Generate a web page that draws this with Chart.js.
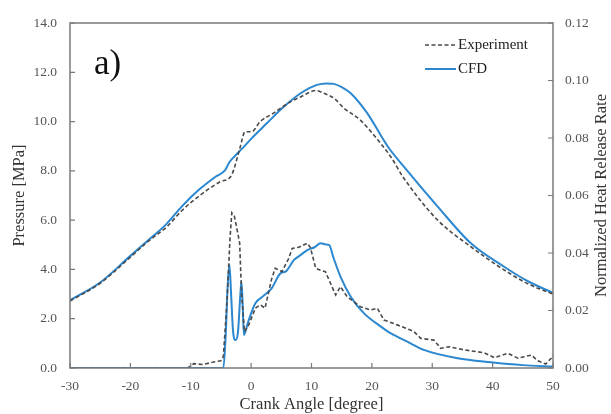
<!DOCTYPE html>
<html>
<head>
<meta charset="utf-8">
<script src="https://cdn.jsdelivr.net/npm/chart.js@4.4.0/dist/chart.umd.min.js"></script>
<style>
  html, body { margin: 0; padding: 0; background: #fff; }
</style>
</head>
<body>
<canvas id="chart" width="611" height="414"></canvas>
<script>
// Pressure [MPa], CFD
const cfdPressureAngle = [-30, -25, -20, -17, -14, -11.5, -8.7, -5.9, -4.3, -3.6, -2.9, -1.5, 0, 2.6, 5.4, 8.2, 10.9, 12.5, 13.7, 15, 16.5, 19.2, 22.6, 25.3, 30.9, 36.4, 41.9, 46, 50];
const cfdPressure = [2.75, 3.47, 4.55, 5.19, 5.85, 6.55, 7.22, 7.76, 8.03, 8.35, 8.55, 8.9, 9.3, 9.93, 10.6, 11.15, 11.49, 11.55, 11.53, 11.4, 11.15, 10.35, 9.0, 8.17, 6.55, 5.06, 4.11, 3.5, 3.05];

// Pressure [MPa], experiment
const expPressureAngle = [-30, -25, -20, -17, -14, -11.5, -8.4, -5.1, -3.4, -2.9, -1.8, -1.0, 0.1, 1.5, 3.7, 6.5, 8.2, 10.7, 12.0, 13.7, 15.4, 18.1, 20.3, 23.1, 25.3, 30.9, 36.4, 41.9, 46, 50];
const expPressure = [2.72, 3.44, 4.5, 5.15, 5.72, 6.38, 7.02, 7.56, 7.76, 8.03, 8.98, 9.59, 9.59, 10.0, 10.34, 10.8, 11.0, 11.26, 11.15, 10.95, 10.54, 10.06, 9.46, 8.58, 7.7, 6.0, 4.92, 3.98, 3.4, 3.0];

// Normalized heat release rate, CFD
const cfdHrrAngle = [-30, -4.6, -4.2, -3.9, -3.6, -3.3, -3.0, -2.6, -2.2, -1.8, -1.6, -1.4, -1.2, -0.5, 0.7, 2.0, 3.4, 4.9, 5.7, 7.1, 8.0, 9.3, 10.5, 11.5, 12.3, 12.9, 13.7, 14.8, 16.5, 18.7, 21.5, 23.1, 26.4, 28.6, 34.2, 39.7, 45, 50];
const cfdHrr = [0, 0, 0.012, 0.028, 0.036, 0.025, 0.013, 0.0097, 0.012, 0.025, 0.030, 0.022, 0.0115, 0.016, 0.0225, 0.025, 0.0277, 0.033, 0.0335, 0.0376, 0.039, 0.041, 0.042, 0.0434, 0.043, 0.0428, 0.038, 0.0318, 0.0248, 0.019, 0.0144, 0.0121, 0.0086, 0.0063, 0.0034, 0.002, 0.001, 0.0005];

// Normalized heat release rate, experiment
const expHrrAngle = [-30, -10.5, -9.5, -8, -6, -5, -4.6, -4.0, -3.5, -3.2, -2.8, -2.5, -1.9, -1.6, -1.1, -0.4, 0.7, 1.5, 2.3, 3.4, 4.0, 5.1, 6.2, 6.8, 7.9, 9.3, 9.8, 10.7, 11.5, 12.3, 14.0, 14.8, 15.9, 18.1, 19.8, 20.9, 22.0, 24.2, 26.4, 27.0, 28.1, 30.3, 31.4, 32.8, 35.3, 38.6, 40.3, 42.5, 44.2, 46.4, 47.5, 48.8, 49.7, 50];
const expHrr = [0, 0, 0.0015, 0.0012, 0.0022, 0.0025, 0.004, 0.023, 0.045, 0.054, 0.053, 0.050, 0.0435, 0.0265, 0.0126, 0.015, 0.0208, 0.022, 0.0208, 0.031, 0.0347, 0.0335, 0.038, 0.0416, 0.042, 0.0434, 0.042, 0.0347, 0.034, 0.0335, 0.0254, 0.0283, 0.0248, 0.0213, 0.0202, 0.0208, 0.0167, 0.015, 0.0132, 0.0126, 0.0103, 0.0097, 0.0068, 0.0074, 0.0063, 0.0053, 0.0036, 0.0051, 0.0034, 0.0045, 0.0025, 0.0014, 0.0034, 0.0045];

// axis ranges / tick steps
const angleRange = [-30, 50, 10];
const pressureRange = [0, 14, 2];
const hrrRange = [0, 0.12, 0.02];

const blue = '#2b87cf';
const grey = '#4a4a4a';
const frameColor = '#7a7a7a';
const serif = '"Liberation Serif", "Times New Roman", serif';

const toPoints = (xs, ys) => xs.map((x, i) => ({ x: x, y: ys[i] }));

// frame, inward ticks, legend, panel label and right axis title
const decorations = {
    id: 'decorations',
    afterDraw(chart) {
        const ctx = chart.ctx;
        const a = chart.chartArea;
        ctx.save();
        ctx.strokeStyle = frameColor;
        ctx.lineWidth = 1.5;
        ctx.strokeRect(a.left, a.top, a.right - a.left, a.bottom - a.top);

        ctx.lineWidth = 1.2;
        ctx.beginPath();
        chart.scales.x.ticks.forEach(t => {
            const px = chart.scales.x.getPixelForValue(t.value);
            ctx.moveTo(px, a.bottom);
            ctx.lineTo(px, a.bottom - 5);
        });
        chart.scales.y.ticks.forEach(t => {
            const py = chart.scales.y.getPixelForValue(t.value);
            ctx.moveTo(a.left, py);
            ctx.lineTo(a.left + 5, py);
        });
        chart.scales.y1.ticks.forEach(t => {
            const py = chart.scales.y1.getPixelForValue(t.value);
            ctx.moveTo(a.right, py);
            ctx.lineTo(a.right - 5, py);
        });
        ctx.stroke();

        // legend
        ctx.font = '15px ' + serif;
        ctx.fillStyle = '#222';
        ctx.textBaseline = 'middle';
        ctx.textAlign = 'left';
        ctx.strokeStyle = grey;
        ctx.lineWidth = 1.6;
        ctx.setLineDash([4, 2.5]);
        ctx.beginPath();
        ctx.moveTo(425, 45);
        ctx.lineTo(456, 45);
        ctx.stroke();
        ctx.setLineDash([]);
        ctx.fillText('Experiment', 458, 45);
        ctx.strokeStyle = blue;
        ctx.lineWidth = 2;
        ctx.beginPath();
        ctx.moveTo(425, 69);
        ctx.lineTo(456, 69);
        ctx.stroke();
        ctx.fillText('CFD', 458, 69);

        // panel label
        ctx.font = '35px ' + serif;
        ctx.fillStyle = '#111';
        ctx.textBaseline = 'alphabetic';
        ctx.fillText('a)', 94, 74);

        // right axis title, reading bottom to top
        ctx.font = '16.5px ' + serif;
        ctx.fillStyle = '#333';
        ctx.textAlign = 'center';
        ctx.textBaseline = 'middle';
        ctx.translate(602, (a.top + a.bottom) / 2);
        ctx.rotate(-Math.PI / 2);
        ctx.fillText('Normalized Heat Release Rate', 0, 0);
        ctx.restore();
    }
};

new Chart(document.getElementById('chart').getContext('2d'), {
    type: 'line',
    data: {
        datasets: [
            {
                label: 'Experiment',
                data: toPoints(expPressureAngle, expPressure),
                yAxisID: 'y',
                borderColor: grey,
                borderWidth: 1.6,
                borderDash: [4, 2.5],
                cubicInterpolationMode: 'monotone'
            },
            {
                label: 'Experiment HRR',
                data: toPoints(expHrrAngle, expHrr),
                yAxisID: 'y1',
                borderColor: grey,
                borderWidth: 1.6,
                borderDash: [4, 2.5]
            },
            {
                label: 'CFD',
                data: toPoints(cfdPressureAngle, cfdPressure),
                yAxisID: 'y',
                borderColor: blue,
                borderWidth: 2,
                cubicInterpolationMode: 'monotone'
            },
            {
                label: 'CFD HRR',
                data: toPoints(cfdHrrAngle, cfdHrr),
                yAxisID: 'y1',
                borderColor: blue,
                borderWidth: 2,
                cubicInterpolationMode: 'monotone'
            }
        ]
    },
    options: {
        responsive: false,
        animation: false,
        layout: { padding: { top: 23, left: 0, right: 0, bottom: 0 } },
        elements: { point: { radius: 0 }, line: { tension: 0 } },
        plugins: { legend: { display: false }, tooltip: { enabled: false } },
        scales: {
            x: {
                type: 'linear',
                min: angleRange[0],
                max: angleRange[1],
                grid: { display: false },
                border: { display: false },
                ticks: {
                    stepSize: angleRange[2],
                    padding: 2,
                    color: '#555',
                    font: { family: serif, size: 13.5 }
                },
                title: {
                    display: true,
                    text: 'Crank Angle [degree]',
                    color: '#333',
                    font: { family: serif, size: 16.5 },
                    padding: { top: 0, bottom: -1 }
                },
                afterFit: s => { s.height = 46; }
            },
            y: {
                position: 'left',
                min: pressureRange[0],
                max: pressureRange[1],
                grid: { display: false },
                border: { display: false },
                ticks: {
                    stepSize: pressureRange[2],
                    padding: 5,
                    color: '#555',
                    font: { family: serif, size: 13.5 },
                    callback: v => v.toFixed(1)
                },
                title: {
                    display: true,
                    text: 'Pressure [MPa]',
                    color: '#333',
                    font: { family: serif, size: 16.5 },
                    padding: { top: 10, bottom: 0 }
                },
                afterFit: s => { s.width = 70; }
            },
            y1: {
                position: 'right',
                min: hrrRange[0],
                max: hrrRange[1],
                grid: { display: false },
                border: { display: false },
                ticks: {
                    stepSize: hrrRange[2],
                    padding: 4,
                    color: '#555',
                    font: { family: serif, size: 13.5 },
                    callback: v => v.toFixed(2)
                },
                afterFit: s => { s.width = 58; }
            }
        }
    },
    plugins: [decorations]
});
</script>
</body>
</html>
